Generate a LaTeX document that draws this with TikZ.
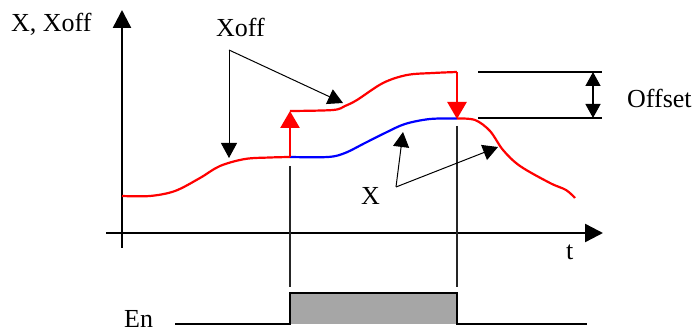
\documentclass[tikz,border=0pt]{standalone}
\usepackage{fontspec}
\setmainfont{Liberation Serif}
\usetikzlibrary{arrows.meta}
\tikzset{
  axis/.style={line width=2.4pt,-{Triangle[length=18pt,width=18pt]}},
  lbl/.style={inner sep=0pt,anchor=base west,font=\fontsize{26}{31}\selectfont},
  pointer/.style={line width=1pt,-{Triangle[length=15pt,width=16pt]}},
  redline/.style={draw=red,line width=2.2pt},
  blueline/.style={draw=blue,line width=2.2pt},
  redarrow/.style={draw=red,line width=2.6pt,-{Triangle[length=17pt,width=19pt]}},
  marker/.style={line width=1.1pt,draw=black!85},
  dimarrow/.style={line width=1.3pt,{Triangle[length=14pt,width=15pt]}-{Triangle[length=14pt,width=15pt]}},
  enline/.style={line width=2.4pt,line join=miter}
}
\begin{document}
\begin{tikzpicture}[x=1pt,y=-1pt]
\useasboundingbox (0,0) rectangle (699,336);
% axes
\coordinate (yb) at (122,248);
\coordinate (yt) at (122,10);
\coordinate (xl) at (106,233);
\coordinate (xr) at (603,233);
\draw[axis] (yb) -- (yt);
\draw[axis] (xl) -- (xr);
% labels
\node[lbl] (lxx) at (11,32) {X, Xoff};
\node[lbl] (lxoff) at (216,37) {Xoff};
\node[lbl] (loff) at (627,108) {Offset};
\node[lbl] (lx) at (361,205) {X};
\node[lbl] (lt) at (566,260) {t};
\node[lbl] (len) at (124,328) {En};
% key points
\coordinate (a) at (290,157);
\coordinate (a2) at (290,111);
\coordinate (b) at (457,72);
\coordinate (b2) at (457,119);
% vertical markers
\coordinate (m1t) at (290,166);
\coordinate (m1b) at (290,287);
\coordinate (m2t) at (457,126);
\coordinate (m2b) at (457,287);
\draw[marker] (m1t) -- (m1b);
\draw[marker] (m2t) -- (m2b);
% red curve start
\draw[redline,line join=round] plot[smooth,tension=0.55] coordinates {(122,196) (150,196) (175,191) (200,178) (220,166) (245,159) (270,157.5) (290,157)};
% blue curve
\draw[blueline] plot[smooth,tension=0.55] coordinates {(290,157) (328,157) (345,153) (365,143) (385,133) (405,124) (430,119) (457,118.5)};
% red upper curve
\draw[redline] plot[smooth,tension=0.55] coordinates {(290,111) (333,110) (345,106) (357,100) (383,83) (407,75) (433,73) (457,72)};
% red tail
\draw[redline] plot[smooth,tension=0.55] coordinates {(457,118.5) (475,120) (490,131) (503,150) (520,166) (550,183) (566,190) (575,198)};
% red jump arrows
\draw[redarrow] (a) -- (a2);
\draw[redarrow] (b) -- (b2);
% Xoff pointers
\coordinate (xs) at (229,50);
\coordinate (xt1) at (229,158);
\coordinate (xt2) at (343,103);
\draw[pointer] (xs) -- (xt1);
\draw[pointer] (xs) -- (xt2);
% X pointers
\coordinate (ps) at (396,187);
\coordinate (pt1) at (403,132);
\coordinate (pt2) at (498,147);
\draw[pointer] (ps) -- (pt1);
\draw[pointer] (ps) -- (pt2);
% Offset dimension
\coordinate (o1l) at (478,72);
\coordinate (o1r) at (602,72);
\coordinate (o2l) at (478,118);
\coordinate (o2r) at (602,118);
\coordinate (d1) at (593,72);
\coordinate (d2) at (593,118);
\draw[line width=1.1pt] (o1l) -- (o1r);
\draw[line width=1.1pt] (o2l) -- (o2r);
\draw[dimarrow] (d1) -- (d2);
% En signal
\coordinate (e0) at (175,324);
\coordinate (e1) at (290,324);
\coordinate (e2) at (290,293);
\coordinate (e3) at (457,293);
\coordinate (e4) at (457,324);
\coordinate (e5) at (587,324);
\fill[black!35] (e1) rectangle (e3);
\draw[enline] (e0) -- (e1) -- (e2) -- (e3) -- (e4) -- (e5);
\end{tikzpicture}
\end{document}
